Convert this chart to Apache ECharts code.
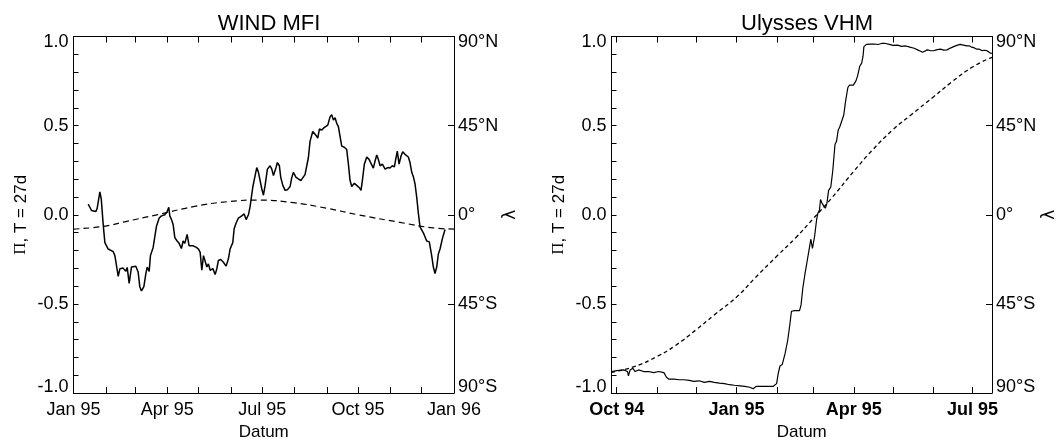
<!DOCTYPE html>
<html>
<head>
<meta charset="utf-8">
<script src="https://cdn.jsdelivr.net/npm/echarts@6/dist/echarts.min.js"></script>
<style>
  html, body { margin: 0; padding: 0; background: #fff; }
  #chart { width: 1061px; height: 446px; }
</style>
</head>
<body>
<div id="chart"></div>
<script>
// x positions are days counted from 1995-01-01 (negative = late 1994)

// ---- WIND MFI: polarity index (27 d window) and Earth's heliolatitude ----
const windDays = [14.1,17.3,21.5,22.7,25.3,26.6,28.5,30.1,33.3,38.1,39.7,42.9,44.5,47.6,50.2,51.5,53.4,55.6,59.8,62.0,
  63.6,65.2,67.5,69.4,70.7,72.6,73.8,76.4,79.6,82.2,84.4,87.6,89.8,91.4,92.4,94.0,95.6,97.2,99.4,101.3,
  103.5,105.2,106.8,109.0,110.9,114.8,117.9,
  119.9,121.5,123.1,124.7,126.3,127.9,129.4,131.1,133.7,135.9,137.5,139.0,141.3,143.8,146.4,148.6,150.2,152.8,
  154.1,156.0,158.2,161.4,163.7,165.6,167.8,169.4,172.0,174.2,175.8,177.4,179.0,180.6,182.2,183.8,186.0,188.6,190.2,191.8,
  194.3,195.6,197.5,198.8,200.8,203.0,205.2,207.8,209.4,210.9,213.5,215.7,218.0,219.9,222.1,223.8,225.3,226.9,229.5,231.1,
  232.7,234.3,235.9,238.2,240.4,242.3,
  243.9,246.1,247.7,249.3,250.9,252.5,254.1,255.7,257.3,259.8,262.1,263.7,265.3,266.9,269.4,271.7,274.2,275.8,277.1,279.0,
  281.3,283.5,285.4,287.6,289.3,290.9,292.4,294.1,296.3,298.9,301.4,303.6,305.8,307.8,309.1,310.6,312.3,314.2,315.8,318.0,
  319.7,321.2,322.8,324.5,326.0,327.6,329.2,330.8,332.4,
  335.6,338.8,341.3,343.6,345.2,346.8,348.4,350.0,351.6,354.1,356.4];
const windPi = [0.060,0.024,0.018,0.036,0.128,0.091,-0.055,-0.156,-0.192,-0.207,-0.229,-0.345,-0.302,-0.299,-0.317,-0.295,-0.385,-0.293,-0.288,-0.321,
  -0.403,-0.427,-0.403,-0.330,-0.293,-0.317,-0.229,-0.183,-0.064,-0.018,-0.006,0.000,0.018,0.042,-0.006,-0.027,-0.055,-0.128,-0.147,-0.160,
  -0.189,-0.147,-0.160,-0.110,-0.174,-0.174,-0.183,
  -0.192,-0.211,-0.311,-0.229,-0.225,-0.293,-0.275,-0.311,-0.302,-0.335,-0.302,-0.256,-0.251,-0.266,-0.288,-0.247,-0.192,-0.156,
  -0.078,-0.046,-0.018,-0.006,0.005,-0.027,0.000,0.046,0.156,0.220,0.265,0.238,0.229,0.146,0.110,0.165,0.256,0.275,0.256,0.220,
  0.265,0.293,0.275,0.210,0.165,0.137,0.141,0.159,0.210,0.238,0.210,0.201,0.192,0.201,0.225,0.232,0.320,0.412,0.467,0.476,
  0.445,0.430,0.481,0.476,0.489,0.481,
  0.503,0.549,0.562,0.531,0.544,0.513,0.495,0.440,0.385,0.379,0.366,0.284,0.192,0.159,0.177,0.165,0.152,0.137,0.192,0.284,
  0.324,0.311,0.320,0.262,0.302,0.335,0.311,0.275,0.284,0.256,0.265,0.262,0.275,0.269,0.311,0.357,0.284,0.330,0.353,0.339,
  0.348,0.324,0.293,0.238,0.214,0.174,0.101,0.009,-0.068,
  -0.101,-0.147,-0.152,-0.229,-0.293,-0.330,-0.293,-0.220,-0.192,-0.128,-0.082];
const windLatDays = [0,29,51,80,115,147,179,211,243,273,313,345,365];
const windLatDeg  = [-7.2,-5.8,-3.3,0,4.1,6.6,7.4,6.1,3.3,0,-3.8,-6.6,-7.2];

// ---- Ulysses VHM: polarity index during the fast latitude scan ----
const ulyDays = [-95.9,-92.0,-86.8,-83.7,-83.0,-81.7,-79.6,-77.8,-75.2,-71.3,
  -67.5,-63.6,-59.7,-55.8,-53.8,-51.9,-48.1,-44.2,-40.3,-36.4,
  -32.6,-28.7,-24.8,-20.9,-17.1,-13.2,-9.3,-5.4,-1.6,1.0,
  6.2,10.1,12.7,15.2,19.1,24.3,28.2,30.7,32.0,33.3,
  35.0,35.9,37.2,39.2,40.9,42.1,44.6,48.3,49.5,50.8,
  52.5,54.0,55.7,57.0,58.2,59.0,59.9,61.4,62.4,63.6,
  64.4,65.6,66.8,68.1,69.3,70.6,72.3,73.8,75.5,76.7,
  78.0,79.2,80.4,82.2,83.7,85.4,86.6,89.6,91.6,92.8,
  94.5,96.0,97.0,97.7,99.6,102.7,105.9,108.5,111.3,113.5,
  117.3,120.0,123.6,126.5,129.9,133.0,136.3,140.1,142.6,146.4,
  149.0,151.4,154.0,156.5,159.0,161.5,164.0,166.6,169.0,171.6,
  174.0,176.7,178.5,180.5,182.5,184.3,186.0,188.1,190.0,191.9,
  194.9,196.0];
const ulyPi = [-0.879,-0.874,-0.870,-0.879,-0.903,-0.870,-0.861,-0.879,-0.870,-0.879,
  -0.879,-0.885,-0.879,-0.885,-0.911,-0.922,-0.922,-0.925,-0.925,-0.929,
  -0.934,-0.931,-0.940,-0.934,-0.940,-0.944,-0.947,-0.953,-0.956,-0.958,
  -0.962,-0.967,-0.976,-0.962,-0.962,-0.962,-0.962,-0.947,-0.888,-0.848,
  -0.840,-0.834,-0.779,-0.705,-0.614,-0.541,-0.537,-0.537,-0.504,-0.412,
  -0.330,-0.266,-0.192,-0.137,-0.189,-0.196,-0.119,-0.027,0.009,0.027,
  0.086,0.064,0.064,0.037,0.064,0.137,0.156,0.247,0.394,0.412,
  0.476,0.494,0.503,0.558,0.640,0.714,0.727,0.727,0.751,0.778,
  0.833,0.851,0.888,0.943,0.956,0.957,0.958,0.955,0.961,0.962,
  0.956,0.950,0.952,0.945,0.947,0.940,0.934,0.921,0.912,0.925,
  0.920,0.921,0.926,0.929,0.924,0.925,0.935,0.943,0.950,0.956,
  0.952,0.947,0.948,0.940,0.936,0.929,0.930,0.921,0.923,0.921,
  0.906,0.905];
const ulyLatDays = [-96,-78,-61,-47,-31,-17,0,14,31,45,59,73,90,104,120,134,151,165,181,196];
const ulyLatDeg  = [-79.5,-76.5,-71.5,-66,-58,-50.5,-41.5,-32,-20.8,-11.8,-1.8,8.5,22,32.5,43,50.5,59.5,67,74.6,79.5];

// ---- axis ticks and labels ----
const windMonthTicks = ['1995-01-01','1995-02-01','1995-03-01','1995-04-01','1995-05-01','1995-06-01','1995-07-01',
  '1995-08-01','1995-09-01','1995-10-01','1995-11-01','1995-12-01','1996-01-01'];
const windLabelDates = ['1995-01-01','1995-04-01','1995-07-01','1995-10-01','1996-01-01'];
const windLabels     = ['Jan 95','Apr 95','Jul 95','Oct 95','Jan 96'];
const ulyMonthTicks = ['1994-10-01','1994-11-01','1994-12-01','1995-01-01','1995-02-01','1995-03-01','1995-04-01',
  '1995-05-01','1995-06-01','1995-07-01'];
const ulyLabelDates = ['1994-10-01','1995-01-01','1995-04-01','1995-07-01'];
const ulyLabels     = ['Oct 94','Jan 95','Apr 95','Jul 95'];
const windRange = ['1995-01-01','1996-01-01'];
const ulyRange  = ['1994-09-27','1995-07-16'];

const piTicks = [-1.0,-0.9,-0.8,-0.7,-0.6,-0.5,-0.4,-0.3,-0.2,-0.1,0.0,0.1,0.2,0.3,0.4,0.5,0.6,0.7,0.8,0.9,1.0];
const piLabelValues = [-1.0,-0.5,0.0,0.5,1.0];
const piLabels      = ['-1.0','-0.5','0.0','0.5','1.0'];
const latTicks  = [-90,-45,0,45,90];
const latLabels = ['90°S','45°S','0°','45°N','90°N'];

// ---- helpers ----
const FONT = '"Liberation Sans", Arial, Helvetica, sans-serif';
const DAY = 86400000;
const EPOCH = Date.UTC(1995, 0, 1);
function dayOf(s) {
  const p = s.split('-').map(Number);
  return Math.round((Date.UTC(p[0], p[1] - 1, p[2]) - EPOCH) / DAY);
}
function pairs(xs, ys) { return xs.map((x, i) => [x, ys[i]]); }
function lookup(values, labels, v) {
  for (let i = 0; i < values.length; i++) if (Math.abs(values[i] - v) < 1e-6) return labels[i];
  return '';
}
const txt = (size, extra) => Object.assign({ fontFamily: FONT, fontSize: size, color: '#000' }, extra || {});
// the labels at both ends of a vertical axis sit a little inside the frame:
// an empty line before/after pushes them inward by half a line height
function edgeWrap(i, n, s) {
  if (i === n - 1) return '\n' + s;
  if (i === 0) return s + '\n';
  return s;
}

const axisLine = { show: true, onZero: false, lineStyle: { color: '#000', width: 1 } };

function xAxesFor(grid, range, ticks, labelDates, labels, bold) {
  const min = dayOf(range[0]), max = dayOf(range[1]);
  const tickDays = ticks.map(dayOf);
  const labelDays = labelDates.map(dayOf);
  return [
    {
      type: 'value', gridIndex: grid, position: 'bottom', min, max,
      name: 'Datum', nameLocation: 'middle', nameGap: 29, nameTextStyle: txt(17),
      axisLine,
      axisTick: { show: true, inside: true, length: 6, customValues: tickDays, lineStyle: { color: '#000' } },
      axisLabel: {
        show: true, customValues: labelDays, margin: 8,
        fontFamily: FONT, fontSize: 18, color: '#000', fontWeight: bold ? 'bold' : 'normal',
        formatter: (v) => lookup(labelDays, labels, v)
      },
      splitLine: { show: false }
    },
    {
      type: 'value', gridIndex: grid, position: 'top', min, max,
      axisLine,
      axisTick: { show: true, inside: true, length: 6, customValues: tickDays, lineStyle: { color: '#000' } },
      axisLabel: { show: false },
      splitLine: { show: false }
    }
  ];
}

function yAxesFor(grid, latGap) {
  return [
    {
      type: 'value', gridIndex: grid, position: 'left', min: -1, max: 1,
      name: '{pi|Π}, T = 27d', nameLocation: 'middle', nameGap: 44, nameRotate: 90,
      nameTextStyle: txt(17, { rich: { pi: { fontFamily: '"Liberation Serif", "DejaVu Serif", serif', fontSize: 17, color: '#000' } } }),
      axisLine,
      axisTick: { show: true, inside: true, length: 5, customValues: piTicks, lineStyle: { color: '#000' } },
      axisLabel: {
        show: true, customValues: piLabelValues, margin: 5, lineHeight: 12,
        fontFamily: FONT, fontSize: 18, color: '#000',
        formatter: (v) => {
          const i = piLabelValues.findIndex(p => Math.abs(p - v) < 1e-6);
          return i < 0 ? '' : edgeWrap(i, piLabelValues.length, piLabels[i]);
        }
      },
      splitLine: { show: false }
    },
    {
      type: 'value', gridIndex: grid, position: 'right', min: -90, max: 90,
      name: 'λ', nameLocation: 'middle', nameGap: latGap, nameRotate: 90,
      nameTextStyle: txt(17, { fontFamily: '"DejaVu Sans", sans-serif' }),
      axisLine,
      axisTick: { show: true, inside: true, length: 6, customValues: latTicks, lineStyle: { color: '#000' } },
      axisLabel: {
        show: true, customValues: latTicks, margin: 4, lineHeight: 12,
        fontFamily: FONT, fontSize: 18, color: '#000',
        formatter: (v) => {
          const i = latTicks.findIndex(p => Math.abs(p - v) < 1e-6);
          return i < 0 ? '' : edgeWrap(i, latTicks.length, latLabels[i]);
        }
      },
      splitLine: { show: false }
    }
  ];
}

const chart = echarts.init(document.getElementById('chart'), null, { renderer: 'canvas' });

chart.setOption({
  animation: false,
  backgroundColor: '#fff',
  title: [
    { text: 'WIND MFI', left: 264, top: 8, textAlign: 'center',
      textStyle: txt(22, { fontWeight: 'normal' }) },
    { text: 'Ulysses VHM', left: 802, top: 8, textAlign: 'center',
      textStyle: txt(22, { fontWeight: 'normal' }) }
  ],
  grid: [
    { left: 73.5, top: 36.5, width: 380.5, height: 363.5, containLabel: false },
    { left: 611.5, top: 36.5, width: 380.5, height: 363.5, containLabel: false }
  ],
  xAxis: [
    ...xAxesFor(0, windRange, windMonthTicks, windLabelDates, windLabels, false),
    ...xAxesFor(1, ulyRange, ulyMonthTicks, ulyLabelDates, ulyLabels, true)
  ],
  yAxis: [
    ...yAxesFor(0, 41),
    ...yAxesFor(1, 49)
  ],
  series: [
    { name: 'WIND Π', type: 'line', xAxisIndex: 0, yAxisIndex: 0, data: pairs(windDays, windPi),
      symbol: 'none', lineStyle: { color: '#000', width: 1.5 }, z: 3 },
    { name: 'WIND λ', type: 'line', xAxisIndex: 0, yAxisIndex: 1, data: pairs(windLatDays, windLatDeg),
      symbol: 'none', smooth: true, lineStyle: { color: '#000', width: 1.2, type: [6, 4] }, z: 2 },
    { name: 'Ulysses Π', type: 'line', xAxisIndex: 2, yAxisIndex: 2, data: pairs(ulyDays, ulyPi),
      symbol: 'none', lineStyle: { color: '#000', width: 1.2 }, z: 3 },
    { name: 'Ulysses λ', type: 'line', xAxisIndex: 2, yAxisIndex: 3, data: pairs(ulyLatDays, ulyLatDeg),
      symbol: 'none', smooth: true, lineStyle: { color: '#000', width: 1.3, type: [4, 3] }, z: 2 }
  ]
});
</script>
</body>
</html>
